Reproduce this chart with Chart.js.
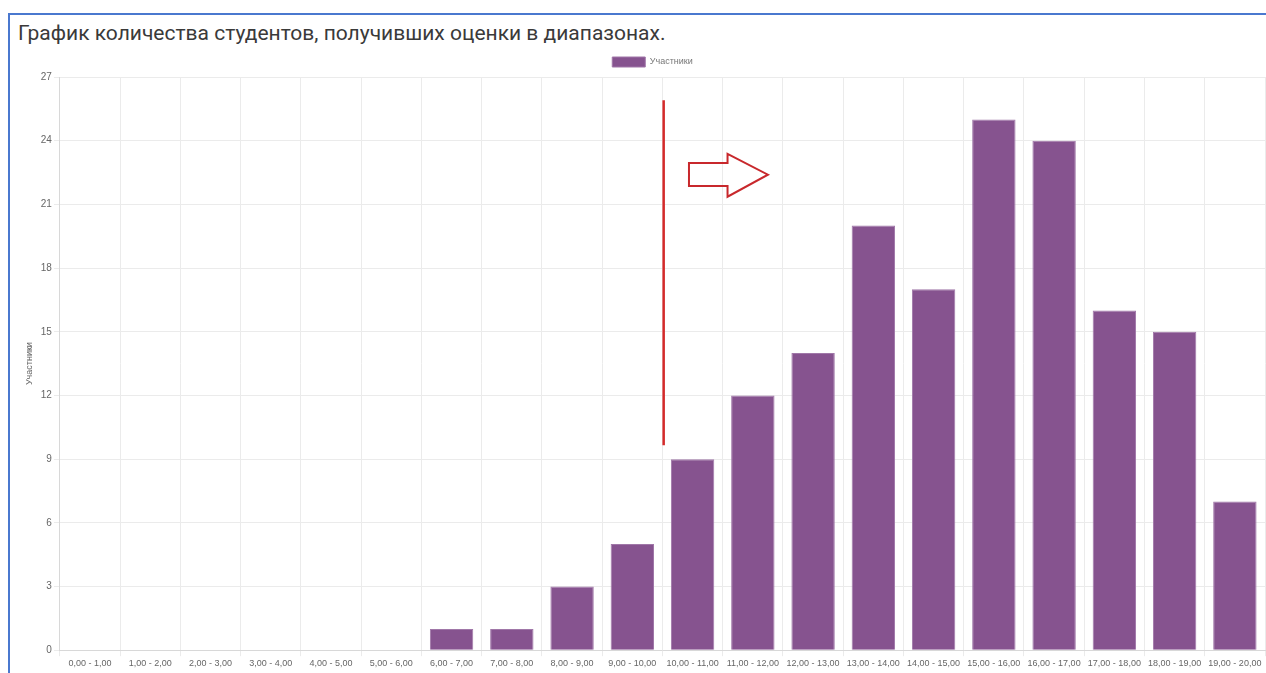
<!DOCTYPE html>
<html>
<head>
<meta charset="utf-8">
<script src="https://cdn.jsdelivr.net/npm/chart.js@4.4.1/dist/chart.umd.min.js"></script>
<style>
  html, body { margin: 0; padding: 0; background: #fff; width: 1266px; height: 673px; overflow: hidden; }
  #frame { position: absolute; left: 8px; top: 13px; width: 1300px; height: 700px; border-top: 2px solid #4a78cf; border-left: 2px solid #4a78cf; }
  #title { position: absolute; left: 18px; top: 21px; font-family: "Roboto", "Liberation Sans Narrow", sans-serif; font-size: 21px; color: #3a3a3a; white-space: nowrap; }
  #wrap { position: absolute; left: 20px; top: 51px; width: 1246px; height: 620px; }
</style>
</head>
<body>
<div id="frame"></div>
<div id="title">График количества студентов, получивших оценки в диапазонах.</div>
<div id="wrap"><canvas id="c"></canvas></div>
<script>
const categories = ["0,00 - 1,00","1,00 - 2,00","2,00 - 3,00","3,00 - 4,00","4,00 - 5,00","5,00 - 6,00","6,00 - 7,00","7,00 - 8,00","8,00 - 9,00","9,00 - 10,00","10,00 - 11,00","11,00 - 12,00","12,00 - 13,00","13,00 - 14,00","14,00 - 15,00","15,00 - 16,00","16,00 - 17,00","17,00 - 18,00","18,00 - 19,00","19,00 - 20,00"];
const participants = [0,0,0,0,0,0,1,1,3,5,9,12,14,20,17,25,24,16,15,7];
const seriesName = "Участники";
const yTicks = [0,3,6,9,12,15,18,21,24,27];

// annotation in data coordinates (category index, value)
const markerLine = { x: 9.52, yTop: 25.9, yBottom: 9.65 };
const arrow = { xStart: 9.94, xNeck: 10.58, xTip: 11.25, bodyTop: 22.95, bodyBottom: 21.87, headTop: 23.38, headBottom: 21.36, tipY: 22.4 };

const annotPlugin = {
  id: 'annot',
  afterLayout(chart) {
    if (chart.legend) { chart.legend.left += 10; chart.legend.right += 10; }
  },
  afterDatasetsDraw(chart) {
    const {ctx, scales: {x, y}} = chart;
    const px = v => x.getPixelForValue(v);
    ctx.save();
    ctx.strokeStyle = '#d42a2a';
    ctx.lineWidth = 2.5;
    ctx.beginPath();
    ctx.moveTo(px(markerLine.x), y.getPixelForValue(markerLine.yTop));
    ctx.lineTo(px(markerLine.x), y.getPixelForValue(markerLine.yBottom));
    ctx.stroke();
    ctx.lineWidth = 2;
    ctx.strokeStyle = '#c8282c';
    ctx.beginPath();
    ctx.moveTo(px(arrow.xStart), y.getPixelForValue(arrow.bodyTop));
    ctx.lineTo(px(arrow.xNeck), y.getPixelForValue(arrow.bodyTop));
    ctx.lineTo(px(arrow.xNeck), y.getPixelForValue(arrow.headTop));
    ctx.lineTo(px(arrow.xTip), y.getPixelForValue(arrow.tipY));
    ctx.lineTo(px(arrow.xNeck), y.getPixelForValue(arrow.headBottom));
    ctx.lineTo(px(arrow.xNeck), y.getPixelForValue(arrow.bodyBottom));
    ctx.lineTo(px(arrow.xStart), y.getPixelForValue(arrow.bodyBottom));
    ctx.closePath();
    ctx.stroke();
    ctx.restore();
  }
};

new Chart(document.getElementById('c'), {
  type: 'bar',
  data: {
    labels: categories,
    datasets: [{
      label: seriesName,
      data: participants,
      backgroundColor: '#86538f',
      borderColor: '#a077a8',
      borderWidth: 1
    }]
  },
  options: {
    responsive: true,
    maintainAspectRatio: false,
    animation: false,
    layout: { padding: { left: 0, right: 1, top: 0, bottom: 0 } },
    plugins: {
      legend: {
        display: true,
        position: 'top',
        labels: { boxWidth: 33, boxHeight: 10, font: { family: 'Liberation Sans', size: 9 }, color: '#777', padding: 6 }
      },
      tooltip: { enabled: false }
    },
    scales: {
      x: {
        grid: { color: '#ebebeb', drawTicks: true, tickLength: 6 },
        border: { color: '#d8d8d8' },
        ticks: { font: { family: 'Liberation Sans', size: 9 }, color: '#666', maxRotation: 0, autoSkip: false, padding: 2 }
      },
      y: {
        min: 0, max: 27,
        afterBuildTicks: axis => { axis.ticks = yTicks.map(v => ({ value: v })); },
        grid: { color: '#ebebeb', tickLength: 6 },
        border: { color: '#d8d8d8' },
        ticks: { font: { family: 'Liberation Sans', size: 10 }, color: '#666', padding: 2 },
        title: { display: true, text: seriesName, font: { family: 'Liberation Sans', size: 9 }, color: '#666', padding: 4 }
      }
    }
  },
  plugins: [annotPlugin]
});
</script>
</body>
</html>
